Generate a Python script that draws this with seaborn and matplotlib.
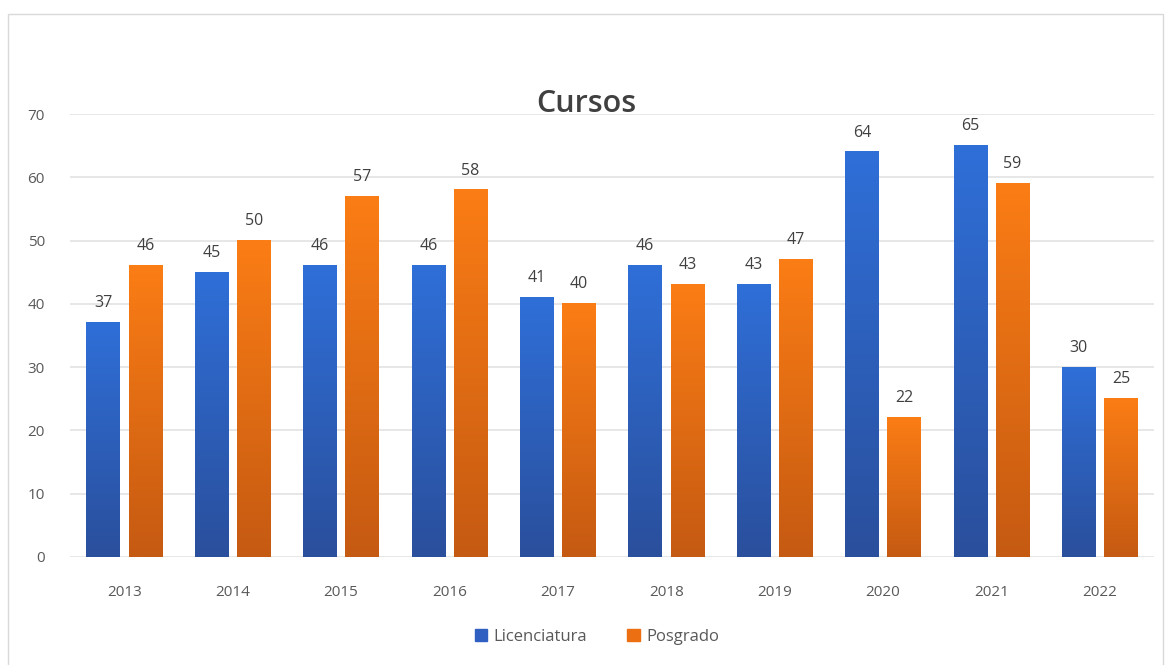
import matplotlib.pyplot as plt
import matplotlib.patches as mpatches
from matplotlib.colors import LinearSegmentedColormap
import numpy as np
import pandas as pd
import seaborn as sns

# ── Data ──────────────────────────────────────────────────────────────────────
years        = ['2013', '2014', '2015', '2016', '2017', '2018', '2019', '2020', '2021', '2022']
licenciatura = [37, 45, 46, 46, 41, 46, 43, 64, 65, 30]
posgrado     = [46, 50, 57, 58, 40, 43, 47, 22, 59, 25]
series_names = ['Licenciatura', 'Posgrado']

df = pd.DataFrame({
    'Año':   years * 2,
    'Cursos': licenciatura + posgrado,
    'Tipo':  [series_names[0]] * len(years) + [series_names[1]] * len(years),
})

# gradient ends (top, bottom) per series
GRAD = {
    'Licenciatura': ('#2f6fd8', '#2a4f9c'),
    'Posgrado':     ('#fb7d15', '#c55a12'),
}
palette = {'Licenciatura': '#2f5fc0', 'Posgrado': '#ec6f12'}

sns.set_theme(style='white')
plt.rcParams['font.family'] = ['Open Sans', 'DejaVu Sans']

fig = plt.figure(figsize=(11.68, 6.65), dpi=100)
ax = fig.add_axes([70 / 1168, 108 / 665, 1084 / 1168, 443 / 665])

sns.barplot(data=df, x='Año', y='Cursos', hue='Tipo', order=years,
            hue_order=series_names, palette=palette, width=0.78, gap=0.21,
            legend=False, ax=ax, zorder=2, linewidth=0)

# ── vertical gradient fill over each bar ─────────────────────────────────────
grad = np.linspace(0, 1, 256).reshape(-1, 1)
n = len(years)
for i, p in enumerate(ax.patches[:2 * n]):
    name = series_names[i // n]
    cmap = LinearSegmentedColormap.from_list(name, [GRAD[name][1], GRAD[name][0]])
    x0, w, h = p.get_x(), p.get_width(), p.get_height()
    ax.imshow(grad, extent=(x0, x0 + w, 0, h), origin='lower', cmap=cmap,
              aspect='auto', zorder=3)
    ax.text(x0 + w / 2, h + 1.8, f'{h:.0f}', ha='center', va='bottom',
            fontsize=11.5, color='#404040', zorder=4)

ax.set_xlim(-0.5, n - 0.5)
ax.set_ylim(0, 70)
ax.set_yticks(range(0, 71, 10))
ax.grid(axis='y', color='#e3e3e3', linewidth=1.2, zorder=0)
ax.set_axisbelow(True)
for s in ax.spines.values():
    s.set_visible(False)
ax.tick_params(axis='y', length=0, pad=18, labelsize=11, labelcolor='#595959')
ax.tick_params(axis='x', length=0, pad=20, labelsize=11, labelcolor='#595959')
ax.set_xlabel('')
ax.set_ylabel('')

fig.text(586 / 1168, 1 - 104 / 665, 'Cursos', ha='center', va='center',
         fontsize=22, fontweight='semibold', color='#404040')

handles = [mpatches.Patch(color=palette[s], label=s) for s in series_names]
fig.legend(handles=handles, loc='center', bbox_to_anchor=(597 / 1168, 1 - 637 / 665),
           ncol=2, frameon=False, fontsize=12, handlelength=0.75, handleheight=0.75,
           handletextpad=0.4, columnspacing=2.4, labelcolor='#595959')

# outer chart frame
fig.patches.append(mpatches.Rectangle((8 / 1168, -0.02), 1155 / 1168, 1 - 14 / 665 + 0.02,
                                      transform=fig.transFigure, fill=False,
                                      edgecolor='#d9d9d9', linewidth=1))

fig.savefig('out.png', dpi=100, facecolor='white')
